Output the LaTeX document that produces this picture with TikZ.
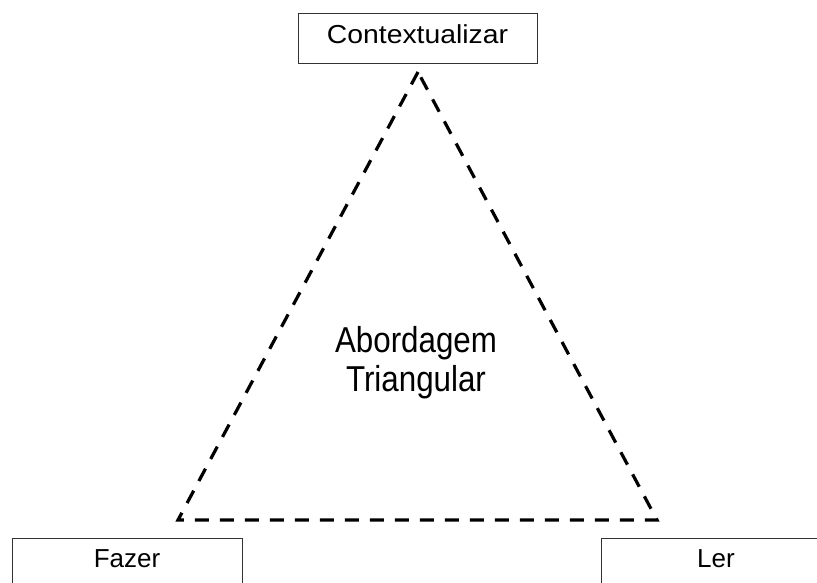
\documentclass[tikz,border=0pt]{standalone}
\usepackage{fontspec}
\setmainfont{Liberation Sans}
\newfontfamily\widefont[FakeStretch=1.09]{Liberation Sans}
\newfontfamily\narrowfont[FakeStretch=0.87]{Liberation Sans}
\begin{document}
\begin{tikzpicture}[x=1pt,y=-1pt,
  boxnode/.style={draw=black!80, line width=1pt, minimum width=230pt, minimum height=50pt,
    inner sep=0pt, text depth=8pt, font=\fontsize{26}{30}\selectfont},
  tri/.style={line width=3.2pt, dash pattern=on 14pt off 11pt}]
\useasboundingbox (0,0) rectangle (817,582);
\clip (0,0) rectangle (817,582);
\node[boxnode, minimum width=239pt, font=\widefont\fontsize{26}{30}\selectfont] (ctx) at (417.5,38) {Contextualizar};
\node[boxnode] (faz) at (127,563) {Fazer};
\node[boxnode] (ler) at (716,563) {Ler};
\coordinate (top) at (418,72);
\coordinate (bl) at (178,520);
\coordinate (br) at (657,520);
\draw[tri] (top) -- (bl) -- (br) -- cycle;
\node[align=center, inner sep=0pt, font=\narrowfont\fontsize{36}{39}\selectfont] (ab) at (416,363) {Abordagem\\Triangular};
\end{tikzpicture}
\end{document}
